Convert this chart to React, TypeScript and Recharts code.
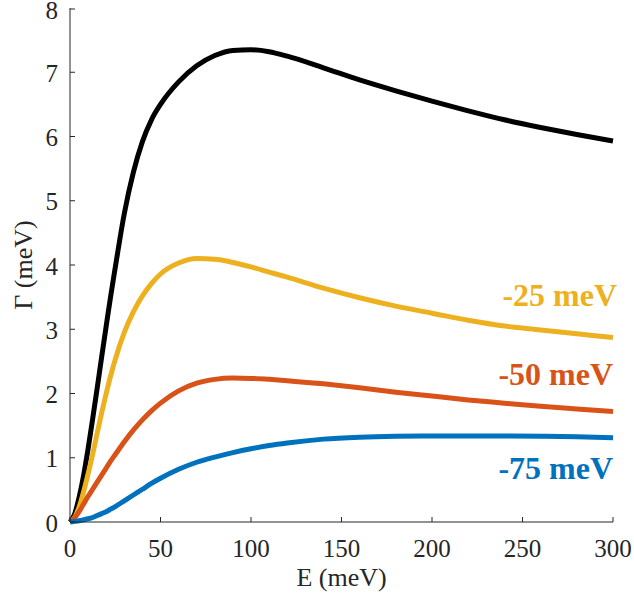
import { Label, Line, LineChart, ReferenceDot, XAxis, YAxis } from 'recharts';

const energy = [0, 2.5, 5, 7.5, 10, 12.5, 15, 17.5, 20, 22.5, 25, 30, 35, 40, 45, 50, 60, 70, 80, 90, 100, 110, 120, 140, 160, 180, 200, 220, 240, 260, 280, 300];
const gammaTotal = [0, 0.12, 0.38, 0.72, 1.14, 1.6, 2.08, 2.57, 3.05, 3.52, 3.96, 4.8, 5.44, 5.92, 6.26, 6.5, 6.85, 7.1, 7.26, 7.34, 7.35, 7.32, 7.25, 7.07, 6.88, 6.71, 6.55, 6.4, 6.26, 6.14, 6.03, 5.93];
const gamma25 = [0, 0.07, 0.23, 0.47, 0.75, 1.05, 1.38, 1.7, 2.0, 2.28, 2.53, 2.95, 3.27, 3.52, 3.71, 3.86, 4.03, 4.1, 4.09, 4.04, 3.97, 3.89, 3.81, 3.64, 3.49, 3.36, 3.25, 3.14, 3.05, 2.99, 2.93, 2.87];
const gamma50 = [0, 0.06, 0.16, 0.28, 0.4, 0.51, 0.62, 0.73, 0.84, 0.95, 1.05, 1.25, 1.43, 1.59, 1.73, 1.85, 2.04, 2.16, 2.22, 2.24, 2.235, 2.22, 2.2, 2.15, 2.09, 2.02, 1.96, 1.9, 1.85, 1.8, 1.76, 1.72];
const gamma75 = [0, 0.01, 0.02, 0.035, 0.05, 0.07, 0.1, 0.13, 0.16, 0.2, 0.24, 0.33, 0.42, 0.51, 0.6, 0.68, 0.82, 0.93, 1.01, 1.08, 1.14, 1.19, 1.23, 1.29, 1.32, 1.335, 1.34, 1.34, 1.34, 1.335, 1.325, 1.31];

const xTicks = [0, 50, 100, 150, 200, 250, 300];
const yTicks = [0, 1, 2, 3, 4, 5, 6, 7, 8];

const seriesLabels = ['-25 meV', '-50 meV', '-75 meV'];
const labelAnchorY = [3.36, 2.13, 0.675];

const data = energy.map((e, i) => ({
  e,
  total: gammaTotal[i],
  g25: gamma25[i],
  g50: gamma50[i],
  g75: gamma75[i],
}));

const AXIS = '#262626';
const FONT = 'Liberation Serif';
const colors = { total: '#000000', g25: '#EDB120', g50: '#D95319', g75: '#0072BD' };
const labelColors = [colors.g25, colors.g50, colors.g75];
const labelShift = [4, 0, 0];

function YTick({ x, y, payload }: any) {
  return (
    <g>
      <line x1={x + 12} x2={x + 17} y1={y} y2={y} stroke={AXIS} strokeWidth={1} />
      <text x={x} y={y} dy="0.38em" textAnchor="end" fill={AXIS} fontFamily={FONT} fontSize={25}>
        {payload.value}
      </text>
    </g>
  );
}

function XTick({ x, y, payload }: any) {
  return (
    <g>
      <line x1={x} x2={x} y1={y - 10} y2={y - 15} stroke={AXIS} strokeWidth={1} />
      <text x={x} y={y} dy="1em" textAnchor="middle" fill={AXIS} fontFamily={FONT} fontSize={25}>
        {payload.value}
      </text>
    </g>
  );
}

export default function App() {
  return (
    <div style={{ position: 'absolute', left: 0, top: 0, width: 634, height: 601, background: '#fff' }}>
      <LineChart width={634} height={601} data={data} margin={{ top: 8, right: 21, bottom: 0, left: 0 }}>
        <XAxis
          dataKey="e"
          type="number"
          domain={[0, 300]}
          ticks={xTicks}
          height={79}
          tickSize={0}
          tickMargin={10}
          tick={<XTick />}
          axisLine={{ stroke: AXIS, strokeWidth: 1 }}
          tickLine={false}
        >
          <Label
            content={(p: any) => (
              <text
                x={p.viewBox.x + p.viewBox.width / 2}
                y={p.viewBox.y + 64}
                textAnchor="middle"
                fill={AXIS}
                fontFamily={FONT}
                fontSize={26}
              >
                E (meV)
              </text>
            )}
          />
        </XAxis>
        <YAxis
          type="number"
          domain={[0, 8]}
          ticks={yTicks}
          width={70}
          tickSize={0}
          tickMargin={12}
          tick={<YTick />}
          axisLine={{ stroke: AXIS, strokeWidth: 1 }}
          tickLine={false}
        >
          <Label
            content={(p: any) => {
              const cx = p.viewBox.x + 32;
              const cy = p.viewBox.y + p.viewBox.height / 2;
              return (
                <text
                  x={cx}
                  y={cy}
                  transform={`rotate(-90, ${cx}, ${cy})`}
                  textAnchor="middle"
                  fill={AXIS}
                  fontFamily={FONT}
                  fontSize={26}
                >
                  Γ (meV)
                </text>
              );
            }}
          />
        </YAxis>
        <Line dataKey="total" type="monotone" stroke={colors.total} strokeWidth={5} dot={false} isAnimationActive={false} />
        <Line dataKey="g25" type="monotone" stroke={colors.g25} strokeWidth={5} dot={false} isAnimationActive={false} />
        <Line dataKey="g50" type="monotone" stroke={colors.g50} strokeWidth={5} dot={false} isAnimationActive={false} />
        <Line dataKey="g75" type="monotone" stroke={colors.g75} strokeWidth={5} dot={false} isAnimationActive={false} />
        {seriesLabels.map((text, i) => (
          <ReferenceDot
            key={text}
            x={300}
            y={labelAnchorY[i]}
            r={0}
            fill="none"
            stroke="none"
            label={(p: any) => (
              <text
                x={p.viewBox.x + labelShift[i]}
                y={p.viewBox.y}
                textAnchor="end"
                fill={labelColors[i]}
                fontFamily={FONT}
                fontSize={32}
                fontWeight="bold"
              >
                {text}
              </text>
            )}
          />
        ))}
      </LineChart>
    </div>
  );
}
